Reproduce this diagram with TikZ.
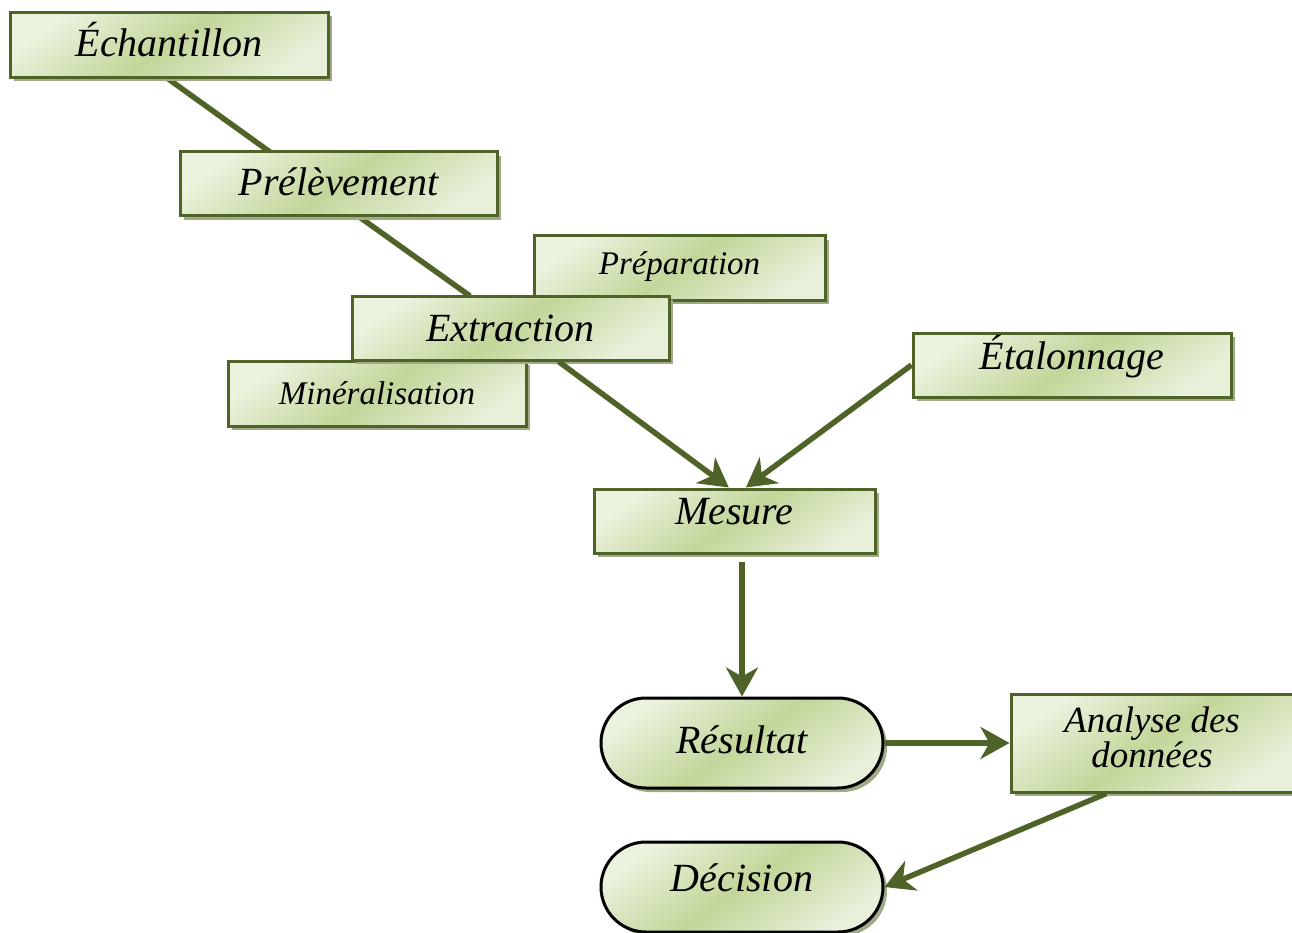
\documentclass[tikz,border=0pt]{standalone}
\usepackage{fontspec}
\setmainfont{Liberation Serif}
\usetikzlibrary{arrows.meta,shadows,calc}

\definecolor{olivedk}{HTML}{4F6228}
\definecolor{glight}{HTML}{EBF2DE}
\definecolor{gmid}{HTML}{C2D69A}
\definecolor{gpale}{HTML}{E8F0DA}
\definecolor{shadowc}{HTML}{9FAB86}

\tikzset{
  boxfill/.style={top color=glight, bottom color=gpale, middle color=gmid,
    shading angle=35,
    general shadow={fill=shadowc, shadow xshift=4pt, shadow yshift=-4pt}},
  stagebox/.style={boxfill, draw=olivedk, line width=3pt, rectangle,
    inner sep=0pt, font=\fontsize{40}{30}\selectfont\itshape},
  smallbox/.style={stagebox, font=\fontsize{33}{30}\selectfont\itshape},
  endbox/.style={boxfill, draw=black, line width=3pt, rounded corners=45pt,
    inner sep=0pt, font=\fontsize{40}{30}\selectfont\itshape},
  twoline/.style={font=\fontsize{37}{30}\selectfont\itshape, align=center},
  link/.style={draw=olivedk, line width=5.5pt},
  flow/.style={link, -{Stealth[length=29pt, width=32pt, inset=9pt]}}
}

\begin{document}
\begin{tikzpicture}[x=1pt, y=-1pt]
\useasboundingbox (0,0) rectangle (1292,933);

% plain links drawn first so that the boxes cover their ends
\coordinate (e1) at (167,78);
\coordinate (p1) at (270,152);
\coordinate (p2) at (358,216);
\coordinate (x1) at (470,296);
\draw[link] (e1) -- (p1);
\draw[link] (p2) -- (x1);

% sample preparation chain
\node[stagebox, minimum width=318pt, minimum height=65pt] (ech) at (169,45) {\raisebox{12pt}{Échantillon}};
\node[stagebox, minimum width=317pt, minimum height=64pt] (prel) at (338.5,184) {\raisebox{4pt}{Prélèvement}};
\node[smallbox, minimum width=291pt, minimum height=64pt] (prep) at (679.5,268) {\raisebox{9pt}{Préparation}};
\node[smallbox, minimum width=298pt, minimum height=65pt] (mine) at (377,393.5) {\raisebox{-3pt}{Minéralisation}};
\node[stagebox, minimum width=317pt, minimum height=64pt] (extr) at (510.5,328) {Extraction};

% measurement and calibration
\node[stagebox, minimum width=318pt, minimum height=64pt] (etal) at (1072,365) {\raisebox{25pt}{Étalonnage}};
\node[stagebox, minimum width=281pt, minimum height=64pt] (mes) at (734.5,521) {\raisebox{20pt}{Mesure}};

% results and decision
\node[endbox, minimum width=282pt, minimum height=90pt] (res) at (742,743) {\raisebox{7pt}{Résultat}};
\node[stagebox, minimum width=282pt, minimum height=98pt,
      label={[twoline, yshift=6pt]center:Analyse des\\données}] (ana) at (1152,743) {};
\node[endbox, minimum width=282pt, minimum height=90pt] (dec) at (742,887) {\raisebox{18pt}{Décision}};

% arrows
\draw[flow] ($(extr.south west)!0.65!(extr.south east)$) -- ($(mes.north west)!0.48!(mes.north east)$);
\draw[flow] (etal.west) -- ($(mes.north west)!0.54!(mes.north east)$);
\draw[flow, shorten <=7pt] (mes.south -| res.north) -- (res.north);
\draw[flow] (res.east) -- (ana.west);
\draw[flow] ($(ana.south west)!0.34!(ana.south east)$) -- (dec.east);
\end{tikzpicture}
\end{document}
